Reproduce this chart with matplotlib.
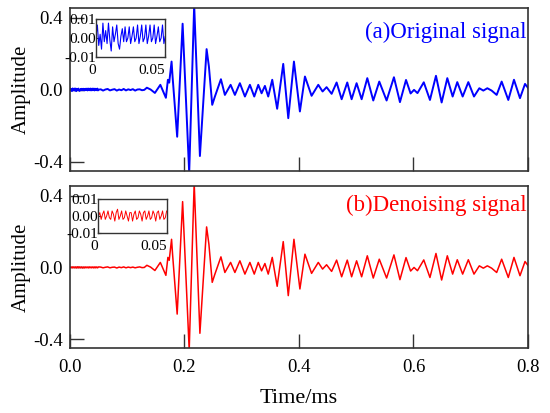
import numpy as np
import matplotlib
matplotlib.use("Agg")
import matplotlib.pyplot as plt

plt.rcParams["font.family"] = ["Liberation Serif", "DejaVu Serif"]
plt.rcParams["axes.unicode_minus"] = False

# first 0.05 ms of each signal (shown in the insets), sampled every 0.001 ms
orig_start = [0.001, 0.007, -0.004, 0.002, -0.006, 0.008, -0.002, 0.004, -0.003, 0.008,
              -0.001, -0.007, 0.006, -0.002, 0.002, 0.007, -0.003, -0.006, 0.001, 0.005,
              -0.002, 0.006, -0.002, 0.000, 0.006, -0.003, 0.001, 0.006, -0.002, 0.000,
              0.007, -0.003, 0.001, 0.007, -0.002, 0.000, 0.007, -0.003, 0.001, 0.007,
              -0.002, 0.000, 0.007, -0.003, 0.001, 0.006, -0.002, 0.000, 0.007, -0.003, 0.001]
den_start = [0.000, 0.002, -0.002, 0.001, 0.003, -0.002, 0.000, 0.003, -0.001, -0.002,
             0.003, 0.001, -0.003, 0.002, 0.004, -0.002, 0.000, 0.003, -0.002, -0.001,
             0.003, 0.000, -0.003, 0.002, 0.002, -0.003, 0.001, 0.003, -0.002, -0.001,
             0.003, 0.001, -0.003, 0.002, 0.003, -0.002, 0.000, 0.003, -0.002, -0.001,
             0.003, 0.001, -0.003, 0.002, 0.003, -0.002, 0.000, 0.003, -0.002, -0.001, 0.003]

# quiet baseline from 0.054 to 0.126 ms, every 0.004 ms
orig_base = [0.003, -0.004, 0.002, 0.005, -0.003, 0.001, 0.004, -0.004, 0.002, -0.002,
             0.005, -0.003, 0.003, -0.001, 0.004, -0.004, 0.002, 0.003, -0.002]
den_base = [0.002, -0.002, 0.001, 0.003, -0.002, 0.001, 0.002, -0.003, 0.002, -0.001,
            0.003, -0.002, 0.002, -0.001, 0.002, -0.002, 0.001, 0.003, -0.001]

# wave arrival and coda: extrema
wave_t = [0.1300, 0.1345, 0.1410, 0.1485, 0.1580, 0.1677, 0.1712, 0.1735, 0.1776, 0.1794,
          0.1874, 0.1969, 0.2084, 0.2171, 0.2271, 0.2388, 0.2428, 0.2458, 0.2486, 0.2533,
          0.2638, 0.2707, 0.2807, 0.2882, 0.2969, 0.3057, 0.3144, 0.3220, 0.3290, 0.3348,
          0.3406, 0.3464, 0.3534, 0.3620, 0.3726, 0.3814, 0.3913, 0.4017, 0.4105, 0.4221,
          0.4338, 0.4413, 0.4483, 0.4571, 0.4658, 0.4746, 0.4844, 0.4920, 0.5007, 0.5095,
          0.5194, 0.5298, 0.5403, 0.5531, 0.5659, 0.5764, 0.5870, 0.5950, 0.6010, 0.6070,
          0.6180, 0.6288, 0.6393, 0.6492, 0.6591, 0.6684, 0.6765, 0.6859, 0.6958, 0.7057,
          0.7150, 0.7220, 0.7290, 0.7365, 0.7453, 0.7540, 0.7656, 0.7755, 0.7860, 0.7948, 0.8005]
wave_a = [0.000, 0.012, 0.002, -0.017, 0.028, -0.044, 0.056, 0.040, 0.157, 0.072,
          -0.260, 0.367, -0.460, 0.470, -0.367, 0.226, 0.130, 0.020, -0.083, -0.037,
          0.059, -0.028, 0.028, -0.028, 0.037, -0.037, 0.028, -0.037, 0.028, -0.019,
          0.022, -0.037, 0.056, -0.105, 0.144, -0.157, 0.157, -0.120, 0.074, -0.033,
          0.028, -0.009, 0.015, -0.022, 0.041, -0.052, 0.041, -0.052, 0.037, -0.052,
          0.065, -0.059, 0.046, -0.059, 0.070, -0.068, 0.055, -0.020, 0.000, -0.018,
          0.042, -0.056, 0.078, -0.070, 0.065, -0.037, 0.043, -0.037, 0.043, -0.037,
          0.009, -0.004, 0.009, -0.004, -0.028, 0.046, -0.056, 0.056, -0.046, 0.033, 0.009]

x_ticks = [0.0, 0.2, 0.4, 0.6, 0.8]
x_labels = ["0.0", "0.2", "0.4", "0.6", "0.8"]
y_ticks = [-0.4, 0.0, 0.4]
y_labels = ["-0.4", "0.0", "0.4"]

t_start = np.linspace(0, 0.05, len(orig_start))
t_base = np.linspace(0.054, 0.126, len(orig_base))
t_all = np.concatenate([t_start, t_base, wave_t])
orig = np.concatenate([orig_start, orig_base, wave_a])
den = np.concatenate([den_start, den_base, wave_a])

frame = "#333333"

fig = plt.figure(figsize=(5.5, 4.13), dpi=100)
ax1 = fig.add_axes([0.127, 0.586, 0.833, 0.395])
ax2 = fig.add_axes([0.127, 0.157, 0.833, 0.393])

panels = [(ax1, orig, "#0000ff", 1.4, "(a)Original signal", 0.85),
          (ax2, den, "#ff0000", 1.1, "(b)Denoising signal", 0.88)]

for ax, sig, col, lw, title, ty in panels:
    ax.plot(t_all, sig, color=col, lw=lw, solid_joinstyle="round")
    ax.set_xlim(0, 0.8)
    ax.set_ylim(-0.45, 0.455)
    ax.set_xticks(x_ticks)
    ax.set_yticks(y_ticks)
    ax.set_yticklabels(y_labels)
    ax.tick_params(direction="in", length=10, width=1, color=frame,
                   labelsize=13.5, top=False, right=False)
    ax.tick_params(axis="y", pad=5)
    ax.tick_params(axis="x", pad=8)
    for s in ax.spines.values():
        s.set_color(frame)
        s.set_linewidth(1.2)
    ax.set_ylabel("Amplitude", fontsize=15, labelpad=2)
    ax.text(0.997, ty, title, color=col, fontsize=16.5, ha="right", va="center",
            transform=ax.transAxes)

ax1.set_xticklabels([])
ax2.set_xticklabels(x_labels)
ax2.set_xlabel("Time/ms", fontsize=16, labelpad=9)

# zoomed insets of the first 0.05 ms
insets = [([0.1745, 0.863, 0.126, 0.090], orig, "#0000ff", 0.8),
          ([0.179, 0.436, 0.124, 0.082], den, "#ff0000", 0.7)]
for rect, sig, col, lw in insets:
    ins = fig.add_axes(rect)
    ins.plot(t_all, sig, color=col, lw=lw)
    ins.set_xlim(0, 0.05)
    ins.set_ylim(-0.01, 0.01)
    ins.set_xticks([0, 0.05])
    ins.set_xticklabels(["0", "0.05"], ha="right")
    ins.set_yticks([-0.01, 0.0, 0.01])
    ins.set_yticklabels(["-0.01", "0.00", "0.01"])
    ins.tick_params(direction="in", length=2, color=frame, labelsize=11)
    ins.tick_params(axis="y", pad=0)
    ins.tick_params(axis="x", pad=5)
    for s in ins.spines.values():
        s.set_color(frame)
        s.set_linewidth(1.0)

fig.savefig("out.png", dpi=100)
